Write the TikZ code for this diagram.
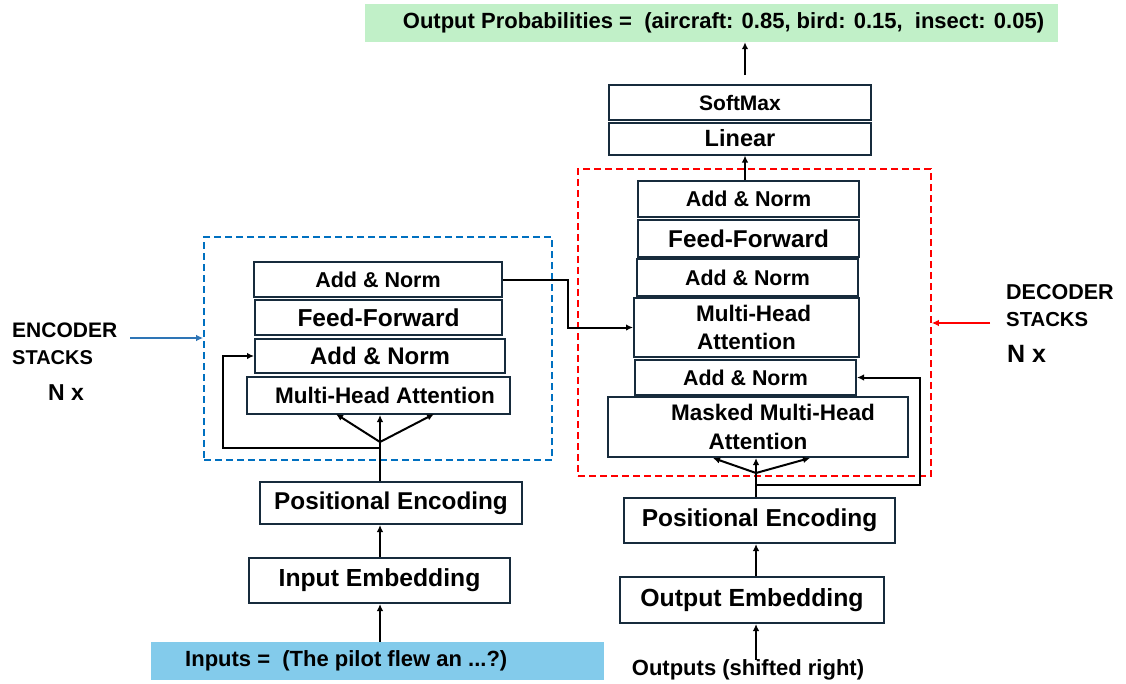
\documentclass[tikz,border=0pt]{standalone}
\usepackage{fontspec}
\setmainfont{Liberation Sans}
\usetikzlibrary{arrows.meta}
\definecolor{edge}{RGB}{23,43,60}
\definecolor{encblue}{RGB}{0,112,192}
\definecolor{encarrow}{RGB}{46,117,182}
\definecolor{probgreen}{RGB}{193,240,200}
\definecolor{inblue}{RGB}{131,203,235}
\newcommand\fz[2]{\fontsize{#1}{#2}\selectfont}
\begin{document}
\begin{tikzpicture}[x=1pt,y=-1pt,font=\bfseries,
  blk/.style={draw=edge,line width=2pt,fill=white,inner sep=0pt,align=center},
  conn/.style={line width=2pt,-{Latex[length=7pt,width=6.5pt]}},
  plain/.style={line width=2pt},
  encframe/.style={draw=encblue,line width=1.6pt,dash pattern=on 7pt off 4pt,inner sep=0pt},
  decframe/.style={draw=red,line width=1.6pt,dash pattern=on 7pt off 4pt,inner sep=0pt},
  lbl/.style={inner sep=0pt,anchor=west}]
\useasboundingbox (0,0) rectangle (1126,683);

% frames
\node[encframe,minimum width=348pt,minimum height=223pt] (encbox) at (378,348.5) {};
\node[decframe,minimum width=353pt,minimum height=307pt] (decbox) at (754.5,322.5) {};

% column coordinates
\coordinate (ecol) at (380,0);
\coordinate (dcol) at (756,0);
\coordinate (tcol) at (745,0);

% top output
\node[fill=probgreen,minimum width=693pt,minimum height=38pt,inner sep=0pt] (probs) at (711.5,23) {};
\node[inner sep=0pt] (probstext) at (723.5,23) {\fz{22}{26}Output Probabilities =\ \ (aircraft: 0.85, bird: 0.15,\ \ insect: 0.05)};

\node[blk,minimum width=262pt,minimum height=35pt,font=\bfseries\fz{21}{24}] (sm) at (740,102.5) {SoftMax};
\node[blk,minimum width=262pt,minimum height=32pt,font=\bfseries\fz{23.5}{27}] (lin) at (740,138.5) {Linear};

% encoder blocks
\node[blk,minimum width=248pt,minimum height=35pt,font=\bfseries\fz{21.5}{26}] (eAN2) at (378,279.5) {Add \& Norm};
\node[blk,minimum width=247pt,minimum height=35pt,font=\bfseries\fz{24.5}{28}] (eFF) at (378.5,317.5) {Feed-Forward};
\node[blk,minimum width=250pt,minimum height=34pt,font=\bfseries\fz{24}{28}] (eAN1) at (380,356) {Add \& Norm};
\node[blk,minimum width=263pt,minimum height=37pt,font=\bfseries\fz{22.5}{26}] (eMHA) at (378.5,395.5) {\hspace*{13pt}Multi-Head Attention};
\node[blk,minimum width=262pt,minimum height=42pt,font=\bfseries\fz{24.3}{28}] (ePE) at (391,503) {Positional Encoding};
\node[blk,minimum width=261pt,minimum height=45pt,font=\bfseries\fz{24.7}{28}] (eIE) at (379.5,580.5) {Input Embedding};
\node[fill=inblue,minimum width=453pt,minimum height=38pt,inner sep=0pt] (inputs) at (377.5,661) {};
\node[lbl] (inputstext) at (185,661) {\fz{22}{26}Inputs =\ \ (The pilot flew an ...?)};

% decoder blocks
\node[blk,minimum width=221pt,minimum height=36pt,font=\bfseries\fz{21.5}{26}] (dAN3) at (748.5,199) {Add \& Norm};
\node[blk,minimum width=221pt,minimum height=37pt,font=\bfseries\fz{24.3}{28}] (dFF) at (748.5,238.5) {Feed-Forward};
\node[blk,minimum width=221pt,minimum height=37pt,font=\bfseries\fz{21.4}{26}] (dAN2) at (747.5,277.5) {Add \& Norm};
\node[blk,minimum width=225pt,minimum height=59pt,font=\bfseries\fz{22.5}{28}] (dMHA) at (746.5,327.5) {\hspace*{14pt}Multi-Head\\Attention};
\node[blk,minimum width=221pt,minimum height=35pt,font=\bfseries\fz{21.4}{26}] (dAN1) at (745.5,377.5) {Add \& Norm};
\node[blk,minimum width=300pt,minimum height=60pt,font=\bfseries\fz{22.5}{29}] (dMMHA) at (758,427) {\hspace*{30pt}Masked Multi-Head\\Attention};
\node[blk,minimum width=271pt,minimum height=45pt,font=\bfseries\fz{24.5}{28}] (dPE) at (759.5,520.5) {Positional Encoding};
\node[blk,minimum width=264pt,minimum height=46pt,font=\bfseries\fz{24.8}{28}] (dOE) at (752,600) {Output Embedding};
\node[inner sep=0pt] (outs) at (748,670) {\fz{22}{26}Outputs (shifted right)};

% side labels
\node[lbl] (enc1) at (12,330) {\fz{21}{24}ENCODER};
\node[lbl] (enc2) at (12,358) {\fz{20}{24}STACKS};
\node[lbl] (enc3) at (48,393) {\fz{23}{28}N x};
\node[lbl] (dec1) at (1006,292.5) {\fz{21.5}{24}DECODER};
\node[lbl] (dec2) at (1006,320) {\fz{20.3}{24}STACKS};
\node[lbl] (dec3) at (1007,353.5) {\fz{25}{28}N x};

% label arrows
\coordinate (ea) at (130,338);
\draw[conn,draw=encarrow,line width=1.5pt] (ea) -- (ea -| encbox.west);
\coordinate (da) at (990,323);
\draw[conn,draw=red,line width=1.5pt] (da) -- (da -| decbox.east);

% output arrows
\coordinate (pa) at (745,75);
\draw[conn] (pa) -- (pa |- probs.south);
\draw[conn] (dAN3.north -| tcol) -- (lin.south -| tcol);

% encoder connectors
\draw[conn] (inputs.north -| ecol) -- (eIE.south -| ecol);
\draw[conn] (eIE.north -| ecol) -- (ePE.south -| ecol);
\coordinate (eb) at (380,442);
\coordinate (er) at (380,448);
\coordinate (el) at (223,448);
\coordinate (eml) at (336,414);
\coordinate (emr) at (434,414);
\draw[plain] (ePE.north -| ecol) -- (eb);
\draw[conn] (eb) -- (eMHA.south -| ecol);
\draw[conn] (eb) -- (eml);
\draw[conn] (eb) -- (emr);
\draw[conn] (er) -- (el) |- (eAN1.west);

% cross connection
\coordinate (cx) at (568,0);
\draw[conn] (eAN2.east) -| (cx |- dMHA.west) -- (dMHA.west);

% decoder connectors
\draw[conn] (outs.north -| dcol) -- (dOE.south -| dcol);
\draw[conn] (dOE.north -| dcol) -- (dPE.south -| dcol);
\coordinate (db) at (756,473);
\coordinate (dr) at (756,485);
\coordinate (drr) at (920,485);
\coordinate (dml) at (713,458);
\coordinate (dmr) at (810,458);
\draw[plain] (dPE.north -| dcol) -- (db);
\draw[conn] (db) -- (dMMHA.south -| dcol);
\draw[conn] (db) -- (dml);
\draw[conn] (db) -- (dmr);
\draw[conn] (dr) -- (drr) |- (dAN1.east);
\end{tikzpicture}
\end{document}
